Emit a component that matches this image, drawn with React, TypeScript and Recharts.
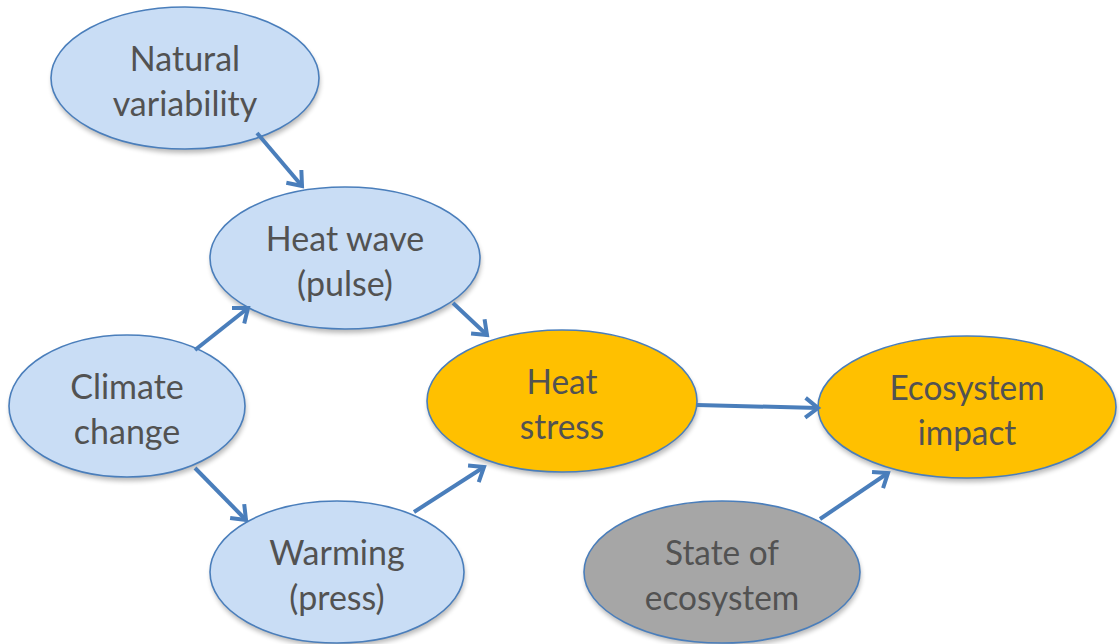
import React from 'react';
import { ScatterChart, Scatter, XAxis, YAxis } from 'recharts';

// Node data (diagram units = pixels of a 1120x644 canvas)
const NODE_NAMES = ['Natural variability', 'Heat wave (pulse)', 'Climate change', 'Warming (press)', 'Heat stress', 'Ecosystem impact', 'State of ecosystem'];
const NODE_LINES = [['Natural', 'variability'], ['Heat wave', '(pulse)'], ['Climate', 'change'], ['Warming', '(press)'], ['Heat', 'stress'], ['Ecosystem', 'impact'], ['State of', 'ecosystem']];
const NODE_X = [185, 345, 127, 337, 562, 967, 722];
const NODE_Y = [78, 258, 406, 572, 401, 407, 572];
const NODE_RX = [134, 135, 118, 127, 135, 149, 138];
const NODE_RY = [71, 71, 71, 71, 71, 71, 71];
const NODE_KIND = ['driver', 'driver', 'driver', 'driver', 'effect', 'effect', 'state'];

// Arrows: from -> to
const ARROW_FROM_X = [257, 195, 195, 453, 414, 697, 820];
const ARROW_FROM_Y = [133, 350, 468, 303, 512, 405, 519];
const ARROW_TO_X = [302, 248, 246, 487, 484, 818, 888];
const ARROW_TO_Y = [186, 308, 520, 335, 467, 408, 473];

const KIND_STYLE: Record<string, { fill: string; condensed: number }> = {
  driver: { fill: '#c9ddf5', condensed: 1 },
  effect: { fill: '#ffc000', condensed: 0.98 },
  state: { fill: '#a6a6a6', condensed: 0.98 },
};

const nodes = NODE_NAMES.map((name, i) => ({
  name,
  x: NODE_X[i],
  y: NODE_Y[i],
  rx: NODE_RX[i],
  ry: NODE_RY[i],
  lines: NODE_LINES[i],
  kind: NODE_KIND[i],
}));

const arrows = ARROW_FROM_X.map((_, i) => [
  { x: ARROW_FROM_X[i], y: ARROW_FROM_Y[i], end: false },
  { x: ARROW_TO_X[i], y: ARROW_TO_Y[i], end: true, fx: ARROW_FROM_X[i], fy: ARROW_FROM_Y[i] },
]);

const STROKE = '#4a7ebb';
const TEXT = '#525252';

function NodeShape(props: any) {
  const { cx, cy, payload } = props;
  const st = KIND_STYLE[payload.kind];
  const n = payload.lines.length;
  return (
    <g>
      <defs>
        <filter id="nodeShadow" x="-20%" y="-20%" width="140%" height="140%">
          <feGaussianBlur stdDeviation="2.5" />
        </filter>
      </defs>
      <ellipse cx={cx + 1} cy={cy + 4} rx={payload.rx} ry={payload.ry} fill="#000" opacity={0.28} filter="url(#nodeShadow)" />
      <ellipse cx={cx} cy={cy} rx={payload.rx} ry={payload.ry} fill={st.fill} stroke={STROKE} strokeWidth={1.6} />
      <g transform={`translate(${cx},0) scale(${st.condensed},1) translate(${-cx},0)`}>
        {payload.lines.map((t: string, i: number) => (
          <text
            key={i}
            x={cx}
            y={cy + (i - (n - 1) / 2) * 45 + 2}
            textAnchor="middle"
            dominantBaseline="central"
            fontFamily="Lato, 'Open Sans', sans-serif"
            fontSize={34}
            fill={TEXT}
          >
            {t}
          </text>
        ))}
      </g>
    </g>
  );
}

function ArrowHead(props: any) {
  const { cx, cy, payload } = props;
  if (!payload.end) return <g />;
  const ang = Math.atan2(payload.y - payload.fy, payload.x - payload.fx);
  const len = 16;
  const spread = (38 * Math.PI) / 180;
  const a1 = ang + Math.PI - spread;
  const a2 = ang + Math.PI + spread;
  const d = `M${cx + len * Math.cos(a1)},${cy + len * Math.sin(a1)} L${cx},${cy} L${cx + len * Math.cos(a2)},${cy + len * Math.sin(a2)}`;
  return <path d={d} fill="none" stroke={STROKE} strokeWidth={4} strokeLinejoin="miter" strokeLinecap="butt" />;
}

export default function App() {
  return (
    <div style={{ position: 'fixed', left: 0, top: 0, width: 1120, height: 644, background: '#fff' }}>
      <ScatterChart width={1120} height={644} margin={{ top: 0, right: 0, bottom: 0, left: 0 }}>
        <XAxis type="number" dataKey="x" domain={[0, 1120]} hide allowDataOverflow />
        <YAxis type="number" dataKey="y" domain={[0, 644]} reversed hide allowDataOverflow />
        <Scatter data={nodes} shape={NodeShape} isAnimationActive={false} />
        {arrows.map((a, i) => (
          <Scatter
            key={i}
            data={a}
            fill={STROKE}
            line={{ stroke: STROKE, strokeWidth: 4 }}
            shape={ArrowHead}
            isAnimationActive={false}
          />
        ))}
      </ScatterChart>
    </div>
  );
}
